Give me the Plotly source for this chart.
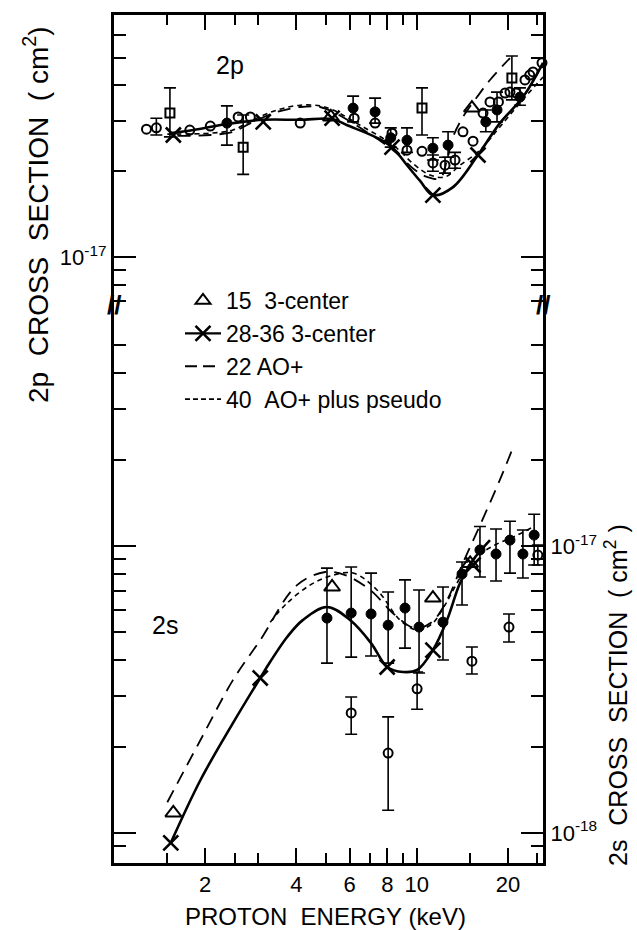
import plotly.graph_objects as go

FONT = "Liberation Sans"
NB = "\u00a0"

# ---------------- axis ticks ----------------
x_major = [2, 4, 6, 8, 10, 20]
x_major_text = ["2", "4", "6", "8", "10", "20"]
x_minor = [1.5, 2.5, 3, 5, 7, 9, 15, 25]

# cross sections in units of 1e-17 cm^2
y_top_major = [1]
y_top_major_text = ["10<sup>-17</sup>"]
y_top_minor = [0.7, 0.8, 0.9, 2, 3, 4, 5, 6]
y_bot_major = [0.1, 1]
y_bot_major_text = ["10<sup>-18</sup>", "10<sup>-17</sup>"]
y_bot_minor = [0.09, 0.2, 0.3, 0.4, 0.5, 0.6, 0.7, 0.8, 0.9, 2, 3, 4, 5]

# ---------------- 2p panel data ----------------
p_open_E = [1.28, 1.78, 2.08, 2.57, 2.82, 4.12, 6.21, 7.28, 8.28, 9.28, 10.4,
            14.2, 15.33, 16.54, 17.44, 18.6, 19.55, 20.3, 21.3, 22.75, 23.6, 24.2, 25.9]
p_open_s = [2.81, 2.79, 2.88, 3.10, 3.10, 2.95, 3.07, 2.95, 2.72, 2.37, 2.35,
            2.75, 2.55, 3.20, 3.50, 3.50, 3.76, 3.79, 3.76, 4.18, 4.35, 4.46, 4.80]

p_openerr_E = [1.38, 11.3, 12.39, 13.37]
p_openerr_s = [2.84, 2.14, 2.10, 2.19]
p_openerr_hi = [3.07, 2.28, 2.24, 2.33]
p_openerr_lo = [2.68, 2.00, 1.97, 2.05]

p_fill_E = [2.36, 6.16, 7.28, 8.2, 9.28, 11.3, 12.68, 16.9, 18.4, 21.9]
p_fill_s = [2.95, 3.33, 3.23, 2.62, 2.57, 2.41, 2.47, 2.98, 3.28, 3.64]
p_fill_hi = [3.39, 3.67, 3.61, 2.84, 2.84, 2.62, 2.75, 3.28, 3.79, 3.92]
p_fill_lo = [2.47, 2.98, 2.95, 2.43, 2.33, 2.19, 2.24, 2.75, 2.98, 3.41]

p_sq_E = [1.53, 2.67, 10.4, 20.6]
p_sq_s = [3.20, 2.43, 3.33, 4.25]
p_sq_hi = [3.92, 3.15, 3.92, 5.07]
p_sq_lo = [2.64, 1.95, 2.68, 3.56]

p_x_E = [1.57, 3.11, 5.25, 8.28, 11.3, 15.92]
p_x_s = [2.68, 2.98, 3.07, 2.43, 1.65, 2.28]

p_tri_E = [5.2, 15.2]
p_tri_s = [3.10, 3.33]

p_solid_E = [1.53, 1.83, 2.36, 3.11, 4.12, 5.25, 5.89, 7.39, 8.28, 9.28, 10.25,
             11.3, 13.17, 15.92, 18.8, 22.4, 26.1]
p_solid_s = [2.72, 2.79, 2.93, 3.03, 3.03, 3.05, 2.90, 2.62, 2.43, 2.10, 1.85,
             1.65, 1.76, 2.28, 2.95, 3.64, 4.80]

p_ao22_E = [1.62, 2.08, 2.47, 2.88, 3.46, 4.12, 4.79, 5.29, 6.50, 8.35, 9.86,
            10.8, 11.93, 12.58, 13.17, 14.2, 15.8, 17.44, 20.3]
p_ao22_s = [2.66, 2.68, 2.75, 2.98, 3.23, 3.36, 3.36, 3.23, 2.84, 2.37, 2.02,
            1.91, 1.89, 2.19, 2.64, 3.10, 3.64, 4.18, 4.99]

p_ao40_E = [1.5, 2.08, 2.47, 2.88, 3.46, 4.12, 4.79, 5.29, 6.50, 8.35, 9.86,
            11.06, 12.39, 13.89, 16.16, 18.8, 21.9, 26.1]
p_ao40_s = [2.70, 2.72, 2.79, 3.03, 3.28, 3.41, 3.39, 3.28, 2.90, 2.47, 2.10,
            1.94, 1.91, 2.10, 2.37, 2.86, 3.47, 4.28]

# ---------------- 2s panel data ----------------
s_fill_E = [5.05, 6.07, 7.06, 8.04, 9.14, 10.17, 12.2, 14.1, 16.16, 18.26, 20.3, 22.4, 24.4]
s_fill_s = [0.561, 0.584, 0.580, 0.530, 0.608, 0.522, 0.543, 0.799, 0.969, 0.938, 1.049, 0.938, 1.092]
s_fill_hi = [0.838, 0.845, 0.805, 0.692, 0.762, 0.703, 0.720, 0.880, 1.17, 1.146, 1.22, 1.137, 1.29]
s_fill_lo = [0.391, 0.410, 0.414, 0.391, 0.441, 0.361, 0.401, 0.623, 0.780, 0.755, 0.805, 0.774, 0.859]

s_open_E = [6.07, 8.04, 10.02, 15.2, 20.15, 25.1]
s_open_s = [0.262, 0.190, 0.318, 0.397, 0.522, 0.930]
s_open_hi = [0.298, 0.254, 0.364, 0.445, 0.580, 1.008]
s_open_lo = [0.221, 0.120, 0.270, 0.358, 0.463, 0.859]

s_tri_E = [1.57, 5.25, 11.3, 15.0]
s_tri_s = [0.1175, 0.720, 0.659, 0.87]

s_x_E = [1.54, 3.04, 7.98, 11.3, 15.33]
s_x_s = [0.0924, 0.347, 0.379, 0.434, 0.859]

s_solid_E = [1.54, 1.93, 2.47, 3.04, 3.28, 3.73, 4.2, 5.05, 6.02, 7.06, 7.98, 9.01,
             10.02, 11.3, 12.58, 13.89, 15.33, 17.44]
s_solid_s = [0.0924, 0.153, 0.2415, 0.347, 0.395, 0.482, 0.552, 0.613, 0.552, 0.459,
             0.379, 0.364, 0.370, 0.434, 0.552, 0.743, 0.894, 1.049]

s_ao22_E = [1.50, 1.93, 2.47, 3.04, 4.02, 4.98, 5.80, 7.01, 8.47, 9.86, 11.2, 12.58,
            14.1, 16.16, 18.8, 20.8]
s_ao22_s = [0.128, 0.211, 0.341, 0.470, 0.731, 0.812, 0.792, 0.703, 0.575, 0.518,
            0.543, 0.648, 0.859, 1.18, 1.70, 2.21]

s_ao40_E = [3.28, 3.73, 4.44, 5.17, 6.16, 7.39, 8.80, 10.02, 11.2, 12.39, 13.89,
            15.56, 18.1, 20.8, 24.2]
s_ao40_s = [0.543, 0.633, 0.731, 0.786, 0.805, 0.703, 0.552, 0.510, 0.535, 0.623,
            0.774, 0.908, 1.008, 1.075, 1.165]

legend_names = ["15" + NB * 2 + "3-center", "28-36 3-center", "22 AO+", "40" + NB * 2 + "AO+ plus pseudo"]

# ---------------- styles ----------------
K = "black"
LONG_DASH = "13px,8px"
SHORT_DASH = "5px,4px"


def err(s, hi, lo):
    return dict(type="data", symmetric=False,
                array=[h - v for h, v in zip(hi, s)],
                arrayminus=[v - l for v, l in zip(s, lo)],
                color=K, thickness=1.6, width=6)


def curve(E, s, xa, ya, dash, width):
    return go.Scatter(x=E, y=s, xaxis=xa, yaxis=ya, mode="lines",
                      line=dict(color=K, width=width, dash=dash, shape="spline", smoothing=1.0),
                      showlegend=False, hoverinfo="skip")


def pts(E, s, xa, ya, symbol, size, lw=2, error=None):
    return go.Scatter(x=E, y=s, xaxis=xa, yaxis=ya, mode="markers",
                      marker=dict(symbol=symbol, size=size, color=K,
                                  line=dict(color=K, width=lw)),
                      error_y=error, showlegend=False, cliponaxis=False)


fig = go.Figure()

# 2p panel (x2, y)
fig.add_trace(curve(p_solid_E, p_solid_s, "x2", "y", "solid", 2.6))
fig.add_trace(curve(p_ao22_E, p_ao22_s, "x2", "y", LONG_DASH, 1.8))
fig.add_trace(curve(p_ao40_E, p_ao40_s, "x2", "y", SHORT_DASH, 1.6))
fig.add_trace(pts(p_sq_E, p_sq_s, "x2", "y", "square-open", 9, 2, err(p_sq_s, p_sq_hi, p_sq_lo)))
fig.add_trace(pts(p_fill_E, p_fill_s, "x2", "y", "circle", 10, 1, err(p_fill_s, p_fill_hi, p_fill_lo)))
fig.add_trace(pts(p_openerr_E, p_openerr_s, "x2", "y", "circle-open", 9, 2,
                  err(p_openerr_s, p_openerr_hi, p_openerr_lo)))
fig.add_trace(pts(p_open_E, p_open_s, "x2", "y", "circle-open", 9, 2))
fig.add_trace(pts(p_x_E, p_x_s, "x2", "y", "x-thin-open", 15, 2.6))
fig.add_trace(pts(p_tri_E, p_tri_s, "x2", "y", "triangle-up-open", 14, 2))

# 2s panel (x, y2)
fig.add_trace(curve(s_solid_E, s_solid_s, "x", "y2", "solid", 2.6))
fig.add_trace(curve(s_ao22_E, s_ao22_s, "x", "y2", LONG_DASH, 1.8))
fig.add_trace(curve(s_ao40_E, s_ao40_s, "x", "y2", SHORT_DASH, 1.6))
fig.add_trace(pts(s_fill_E, s_fill_s, "x", "y2", "circle", 10, 1, err(s_fill_s, s_fill_hi, s_fill_lo)))
fig.add_trace(pts(s_open_E, s_open_s, "x", "y2", "circle-open", 9, 2, err(s_open_s, s_open_hi, s_open_lo)))
fig.add_trace(pts(s_x_E, s_x_s, "x", "y2", "x-thin-open", 15, 2.6))
fig.add_trace(pts(s_tri_E, s_tri_s, "x", "y2", "triangle-up-open", 14, 2))

# legend entries
fig.add_trace(go.Scatter(x=[None], y=[None], mode="markers", name=legend_names[0], legendgroup="a",
                         marker=dict(symbol="triangle-up-open", size=13, color=K, line=dict(color=K, width=2))))
fig.add_trace(go.Scatter(x=[None], y=[None], mode="lines+markers", name=legend_names[1], legendgroup="b",
                         line=dict(color=K, width=2.4),
                         marker=dict(symbol="x-thin-open", size=15, color=K, line=dict(color=K, width=2.6))))
fig.add_trace(go.Scatter(x=[None], y=[None], mode="lines", name=legend_names[2], legendgroup="c",
                         line=dict(color=K, width=1.8, dash="12px,6px")))
fig.add_trace(go.Scatter(x=[None], y=[None], mode="lines", name=legend_names[3], legendgroup="d",
                         line=dict(color=K, width=1.6, dash="5px,3px")))

L, R, T, B = 114, 94, 15, 67
H = 930 - T - B
brk = (863 - 305) / H

xcommon = dict(type="log", range=[0, 1.4166], showline=True, linewidth=3, linecolor=K,
               ticks="inside", ticklen=15, tickwidth=2, tickcolor=K,
               tickmode="array", tickvals=x_major, ticktext=x_major_text,
               minor=dict(tickmode="array", tickvals=x_minor, ticks="inside", ticklen=10,
                          tickwidth=2, tickcolor=K),
               showgrid=False, zeroline=False)

fig.update_layout(
    width=637, height=930,
    margin=dict(l=L, r=R, t=T, b=B),
    paper_bgcolor="white", plot_bgcolor="white",
    font=dict(family=FONT, color=K, size=20),
    xaxis=dict(xcommon, domain=[0, 1], anchor="y2", side="bottom",
               tickfont=dict(size=22, family=FONT)),
    xaxis2=dict(xcommon, domain=[0, 1], anchor="y", side="top", showticklabels=False, matches="x"),
    yaxis=dict(type="log", domain=[brk, 1], anchor="x2", range=[-0.168, 0.849],
               showline=True, linewidth=3, linecolor=K, mirror="ticks",
               ticks="inside", ticklen=22, tickwidth=2, tickcolor=K,
               tickmode="array", tickvals=y_top_major, ticktext=y_top_major_text,
               minor=dict(tickmode="array", tickvals=y_top_minor, ticks="inside", ticklen=12,
                          tickwidth=2, tickcolor=K),
               tickfont=dict(size=22, family=FONT), showgrid=False, zeroline=False),
    yaxis2=dict(type="log", domain=[0, brk], anchor="x", side="right", range=[-1.1045, 0.840],
                showline=True, linewidth=3, linecolor=K, mirror="ticks",
                ticks="inside", ticklen=22, tickwidth=2, tickcolor=K,
                tickmode="array", tickvals=y_bot_major, ticktext=y_bot_major_text,
                minor=dict(tickmode="array", tickvals=y_bot_minor, ticks="inside", ticklen=12,
                           tickwidth=2, tickcolor=K),
                tickfont=dict(size=22, family=FONT), showgrid=False, zeroline=False),
    legend=dict(x=(180 - L) / 429, y=(863 - 279) / H, xanchor="left", yanchor="top",
                bgcolor="rgba(0,0,0,0)", font=dict(size=23, family=FONT),
                traceorder="grouped", tracegroupgap=0, itemwidth=36),
    showlegend=True,
)

ann = [
    dict(text="2p", x=(230 - L) / 429, y=(863 - 65) / H, font=dict(size=25)),
    dict(text="2s", x=(165 - L) / 429, y=(863 - 625) / H, font=dict(size=25)),
    dict(text="2p" + NB * 2 + "CROSS" + NB * 2 + "SECTION" + NB * 2 + "(" + NB + "cm<sup>2</sup>)",
         x=(36 - L) / 429, y=(863 - 215) / H, textangle=-90,
         font=dict(size=28, family="Liberation Sans Narrow, Liberation Sans")),
    dict(text="2s" + NB * 2 + "CROSS" + NB * 2 + "SECTION" + NB * 2 + "(" + NB + "cm<sup>2</sup>" + NB + ")",
         x=(616 - L) / 429, y=(863 - 695) / H, textangle=-90, font=dict(size=25)),
    dict(text="PROTON" + NB * 2 + "ENERGY" + NB + "(keV)", x=(325 - L) / 429, y=(863 - 916) / H,
         font=dict(size=24)),
    dict(text="<b>//</b>", x=0, y=brk, font=dict(size=26)),
    dict(text="<b>//</b>", x=1, y=brk, font=dict(size=26)),
]
for a in ann:
    a.update(xref="paper", yref="paper", showarrow=False, xanchor="center", yanchor="middle")
fig.update_layout(annotations=ann)

fig.write_html("out.html")
